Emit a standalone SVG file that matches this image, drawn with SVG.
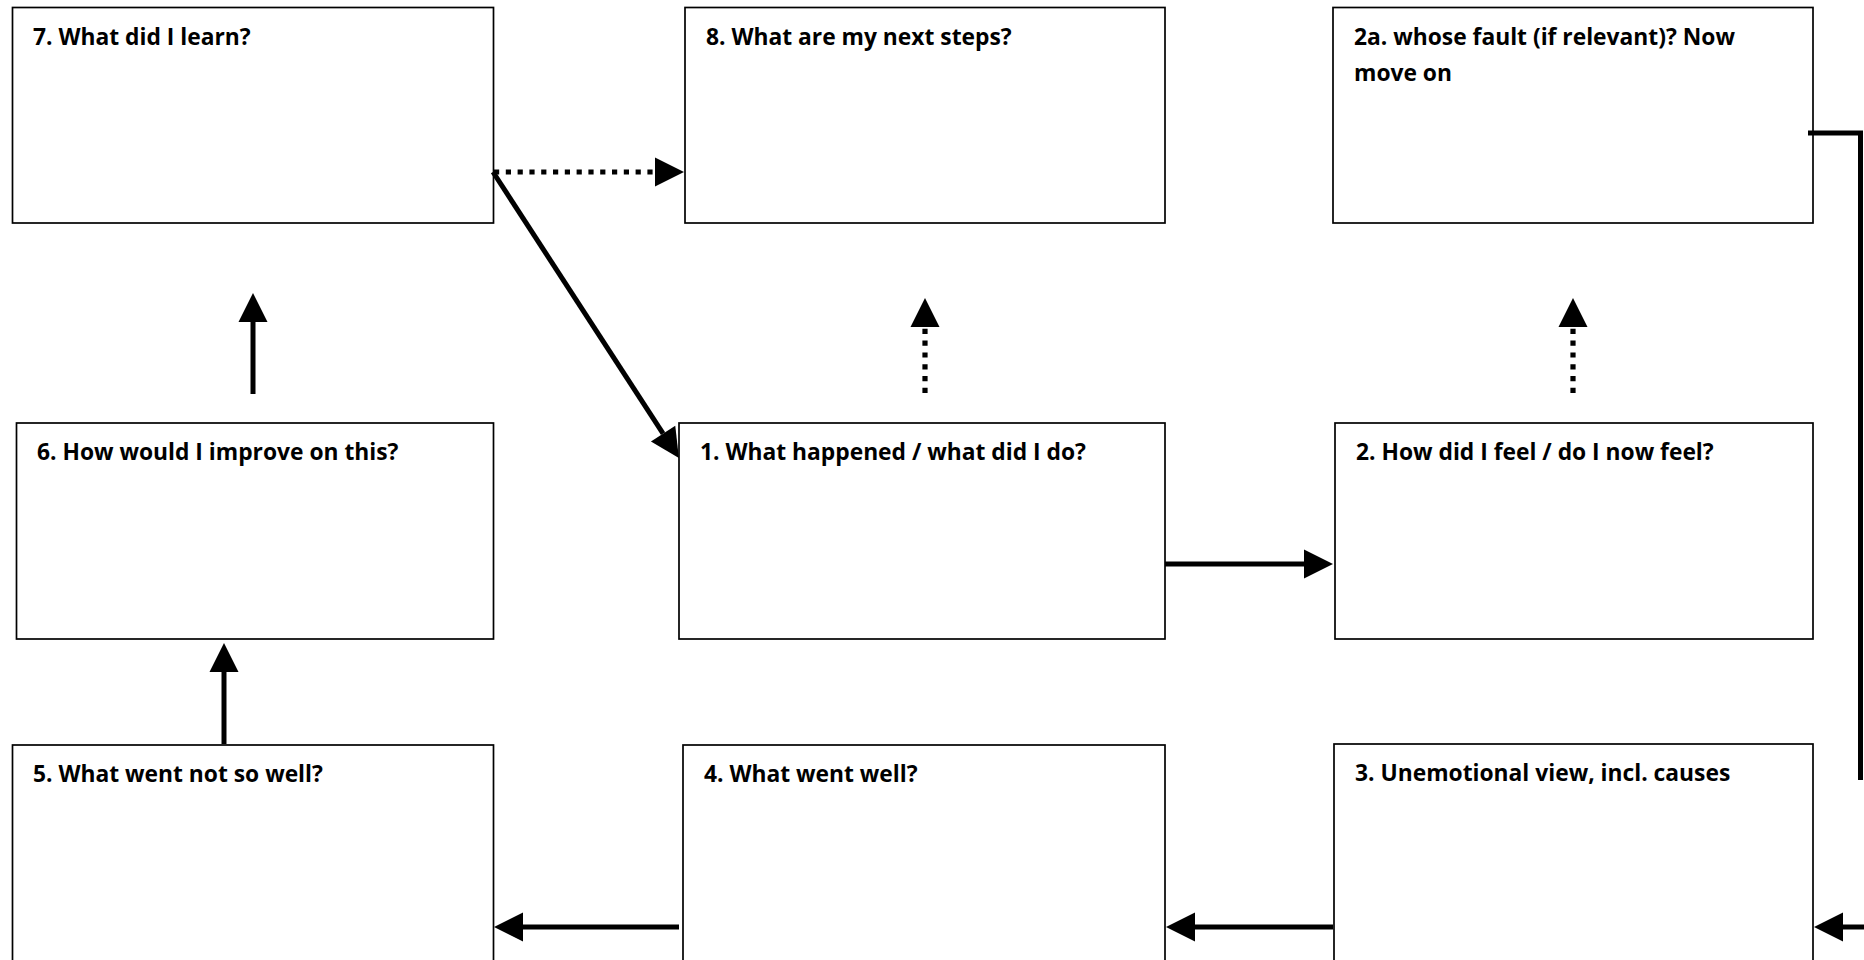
<svg xmlns="http://www.w3.org/2000/svg" width="1864" height="960" viewBox="0 0 1864 960">
<style>
.box{fill:#fff;stroke:#000;stroke-width:1.7}
.lbl{font-family:"Open Sans","Noto Sans","Liberation Sans",sans-serif;font-weight:700;font-size:22.8px;fill:#000}
.c{fill:none;stroke:#000;stroke-width:5}
.dot{fill:none;stroke:#000;stroke-width:5.2;stroke-dasharray:5.2 6.6}
</style>
<defs>
<marker id="ah" markerUnits="userSpaceOnUse" markerWidth="30" markerHeight="30" refX="0" refY="14.5" orient="auto" viewBox="0 0 30 30" overflow="visible">
<path d="M0,0 L29,14.5 L0,29 z" fill="#000"/>
</marker>
</defs>
<rect width="1864" height="960" fill="#fff"/>
<g id="n7"><rect class="box" x="12.5" y="7.5" width="481" height="215.5"/><text class="lbl" x="33" y="45">7. What did I learn?</text></g>
<g id="n8"><rect class="box" x="685" y="7.5" width="480" height="215.5"/><text class="lbl" x="706" y="45">8. What are my next steps?</text></g>
<g id="n2a"><rect class="box" x="1333" y="7.5" width="480" height="215.5"/><text class="lbl" x="1354" y="45">2a. whose fault (if relevant)? Now</text><text class="lbl" x="1354" y="80.5">move on</text></g>
<g id="n6"><rect class="box" x="16.5" y="423" width="477" height="216"/><text class="lbl" x="37" y="460">6. How would I improve on this?</text></g>
<g id="n1"><rect class="box" x="679" y="423" width="486" height="216"/><text class="lbl" x="700" y="460">1. What happened / what did I do?</text></g>
<g id="n2"><rect class="box" x="1335" y="423" width="478" height="216"/><text class="lbl" x="1356" y="460">2. How did I feel / do I now feel?</text></g>
<g id="n5"><rect class="box" x="12.5" y="745" width="481" height="240"/><text class="lbl" x="33" y="782">5. What went not so well?</text></g>
<g id="n4"><rect class="box" x="683" y="745" width="482" height="240"/><text class="lbl" x="704" y="782">4. What went well?</text></g>
<g id="n3"><rect class="box" x="1334" y="744" width="479" height="240"/><text class="lbl" x="1355" y="781">3. Unemotional view, incl. causes</text></g>
<g id="connectors">
<line class="dot" x1="494" y1="172" x2="655" y2="172" marker-end="url(#ah)"/>
<line class="c" x1="493" y1="172" x2="663.1" y2="433.7" marker-end="url(#ah)"/>
<line class="c" x1="253" y1="394" x2="253" y2="322" marker-end="url(#ah)"/>
<line class="dot" x1="925" y1="393" x2="925" y2="327" marker-end="url(#ah)"/>
<line class="dot" x1="1573" y1="393" x2="1573" y2="327" marker-end="url(#ah)"/>
<line class="c" x1="1165" y1="564" x2="1304" y2="564" marker-end="url(#ah)"/>
<line class="c" x1="224" y1="744" x2="224" y2="672" marker-end="url(#ah)"/>
<line class="c" x1="679" y1="927" x2="523" y2="927" marker-end="url(#ah)"/>
<line class="c" x1="1333" y1="927" x2="1195" y2="927" marker-end="url(#ah)"/>
<polyline class="c" points="1808,133 1860.5,133 1860.5,780"/>
<line class="c" x1="1866" y1="927" x2="1843" y2="927" marker-end="url(#ah)"/>
</g>
</svg>
